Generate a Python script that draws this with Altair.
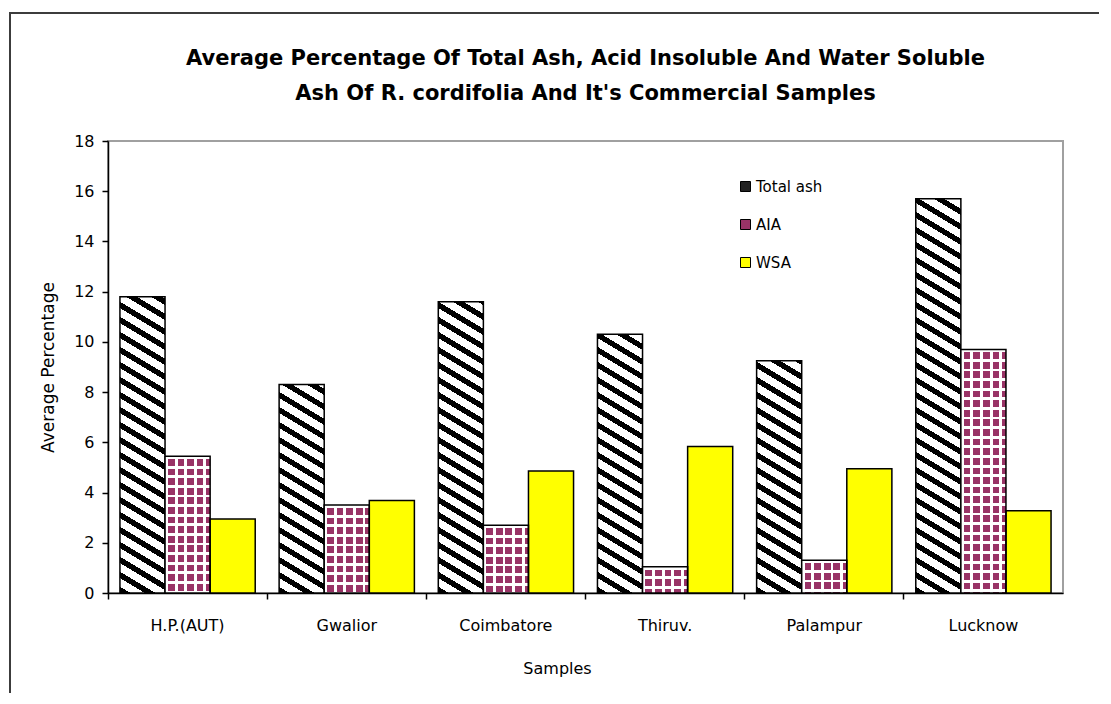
import altair as alt
import pandas as pd

# ---------------- data ----------------
samples = ["H.P.(AUT)", "Gwalior", "Coimbatore", "Thiruv.", "Palampur", "Lucknow"]
series = ["Total ash", "AIA", "WSA"]
total_ash = [11.8, 8.3, 11.6, 10.3, 9.25, 15.7]
aia = [5.45, 3.5, 2.7, 1.05, 1.3, 9.7]
wsa = [2.95, 3.68, 4.86, 5.83, 4.95, 3.28]
y_ticks = [0, 2, 4, 6, 8, 10, 12, 14, 16, 18]
series_colors = ["#222222", "#993366", "#ffff00"]

rows = []
for i, s in enumerate(samples):
    rows.append({"sample": s, "series": "Total ash", "value": total_ash[i]})
    rows.append({"sample": s, "series": "AIA", "value": aia[i]})
    rows.append({"sample": s, "series": "WSA", "value": wsa[i]})
df = pd.DataFrame(rows)

# ---------------- layout ----------------
W, H = 955, 452
YMAX = 18
PX = H / YMAX
OFF_PAD = 0.265
STEP = W / len(samples)
BAR_W = STEP / (3 + 2 * OFF_PAD)

FONT = "DejaVu Sans"


def r4(v):
    return round(v, 4)


def band_stops(n, frac, c_on, c_off):
    stops = []
    i = 0
    while i < n:
        a = min(i / n, 1)
        b = min((i + frac) / n, 1)
        c = min((i + 1) / n, 1)
        stops += [
            {"offset": r4(a), "color": c_on},
            {"offset": r4(b), "color": c_on},
            {"offset": r4(b), "color": c_off},
            {"offset": r4(c), "color": c_off},
        ]
        i += 1
    return stops


def stripes_grad(value, slope=0.6, period_v=15.0, dark=0.42):
    # gradient in bounding-box units: stripes running down-right at `slope`
    h = value * PX
    w = BAR_W
    c = (slope * w + h) / (slope * slope * w * w + h * h)
    gx, gy = c * slope * w, -c * h
    n = (slope * w + h) / period_v
    return {"gradient": "linear", "x1": 0, "y1": 1,
            "x2": r4(gx), "y2": r4(1 + gy),
            "stops": band_stops(n, dark, "#000000", "#ffffff")}


def lines_grad(value, vertical, base, line="#ffffff", period=9.6, frac=0.3):
    h = value * PX
    w = BAR_W
    if vertical:
        n = h / period
        return {"gradient": "linear", "x1": 0, "y1": 0, "x2": 0, "y2": 1,
                "stops": band_stops(n, frac, line, base)}
    n = w / period
    return {"gradient": "linear", "x1": 0, "y1": 0, "x2": 1, "y2": 0,
            "stops": band_stops(n, frac, line, base)}


def test(ser, samp):
    return "datum.series === '%s' && datum.sample === '%s'" % (ser, samp)


cond_main = []
cond_cross = []
for i, s in enumerate(samples):
    cond_main.append({"test": test("Total ash", s), "value": stripes_grad(total_ash[i])})
    cond_main.append({"test": test("AIA", s), "value": lines_grad(aia[i], True, "#993366")})
    cond_cross.append({"test": test("AIA", s),
                       "value": lines_grad(aia[i], False, "rgba(255,255,255,0)")})

enc = dict(
    x=alt.X("sample:N", sort=samples, title="Samples",
            scale=alt.Scale(paddingInner=0, paddingOuter=0),
            axis=alt.Axis(labelAngle=0, bandPosition=0, tickSize=6, labelPadding=18,
                          titlePadding=27, titleX=449, domainColor="#000000",
                          tickColor="#000000", domainWidth=1.5, tickWidth=1.5)),
    xOffset=alt.XOffset("series:N", sort=series,
                        scale=alt.Scale(paddingOuter=OFF_PAD, paddingInner=0)),
    y=alt.Y("value:Q", title="Average Percentage",
            scale=alt.Scale(domain=[0, YMAX], nice=False),
            axis=alt.Axis(values=y_ticks, grid=False, tickSize=6, labelPadding=8,
                          titlePadding=16, titleFontSize=17, domainColor="#000000",
                          tickColor="#000000", domainWidth=1.5, tickWidth=1.5)),
)

base = alt.Chart(df).mark_bar().encode(
    fill=alt.Fill("series:N", sort=series,
                  scale=alt.Scale(domain=series, range=series_colors),
                  legend=alt.Legend(title=None, orient="none", legendX=630, legendY=38,
                                    symbolType="square", symbolSize=100,
                                    symbolStrokeColor="#000000", symbolStrokeWidth=1,
                                    labelFont=FONT, labelFontSize=15, labelColor="#000000",
                                    rowPadding=22, labelOffset=3, padding=0)),
    **enc,
)

pattern = alt.Chart(df).mark_bar().encode(
    fill=alt.value("transparent", condition=cond_main),
    **enc,
)

cross = alt.Chart(df).mark_bar(stroke="#000000", strokeWidth=1.5).encode(
    fill=alt.value("transparent", condition=cond_cross),
    **enc,
)

frame = alt.Chart(pd.DataFrame({"f": [0]})).mark_rect(
    filled=False, stroke="#3c3c3c", strokeWidth=2
).encode(
    x=alt.value(-98), x2=alt.value(3000), y=alt.value(-128), y2=alt.value(3000)
)

chart = alt.layer(frame, base, pattern, cross).properties(
    width=W, height=H,
    background="#ffffff",
    title=alt.TitleParams(
        text=["Average Percentage Of Total Ash, Acid Insoluble And Water Soluble",
              "Ash Of R. cordifolia And It's Commercial Samples"],
        font=FONT, fontSize=21, fontWeight="bold", color="#000000",
        anchor="middle", frame="group", lineHeight=35, offset=-92,
    ),
    autosize=alt.AutoSizeParams(type="none"),
    padding={"left": 100, "top": 133, "right": 36, "bottom": 100},
).configure_view(
    stroke="#a0a0a0", strokeWidth=2
).configure_axis(
    labelFont=FONT, labelFontSize=16, labelColor="#000000",
    titleFont=FONT, titleFontSize=16, titleFontWeight="normal", titleColor="#000000",
)

chart.save("out.html", embed_options={"renderer": "svg", "actions": False})
